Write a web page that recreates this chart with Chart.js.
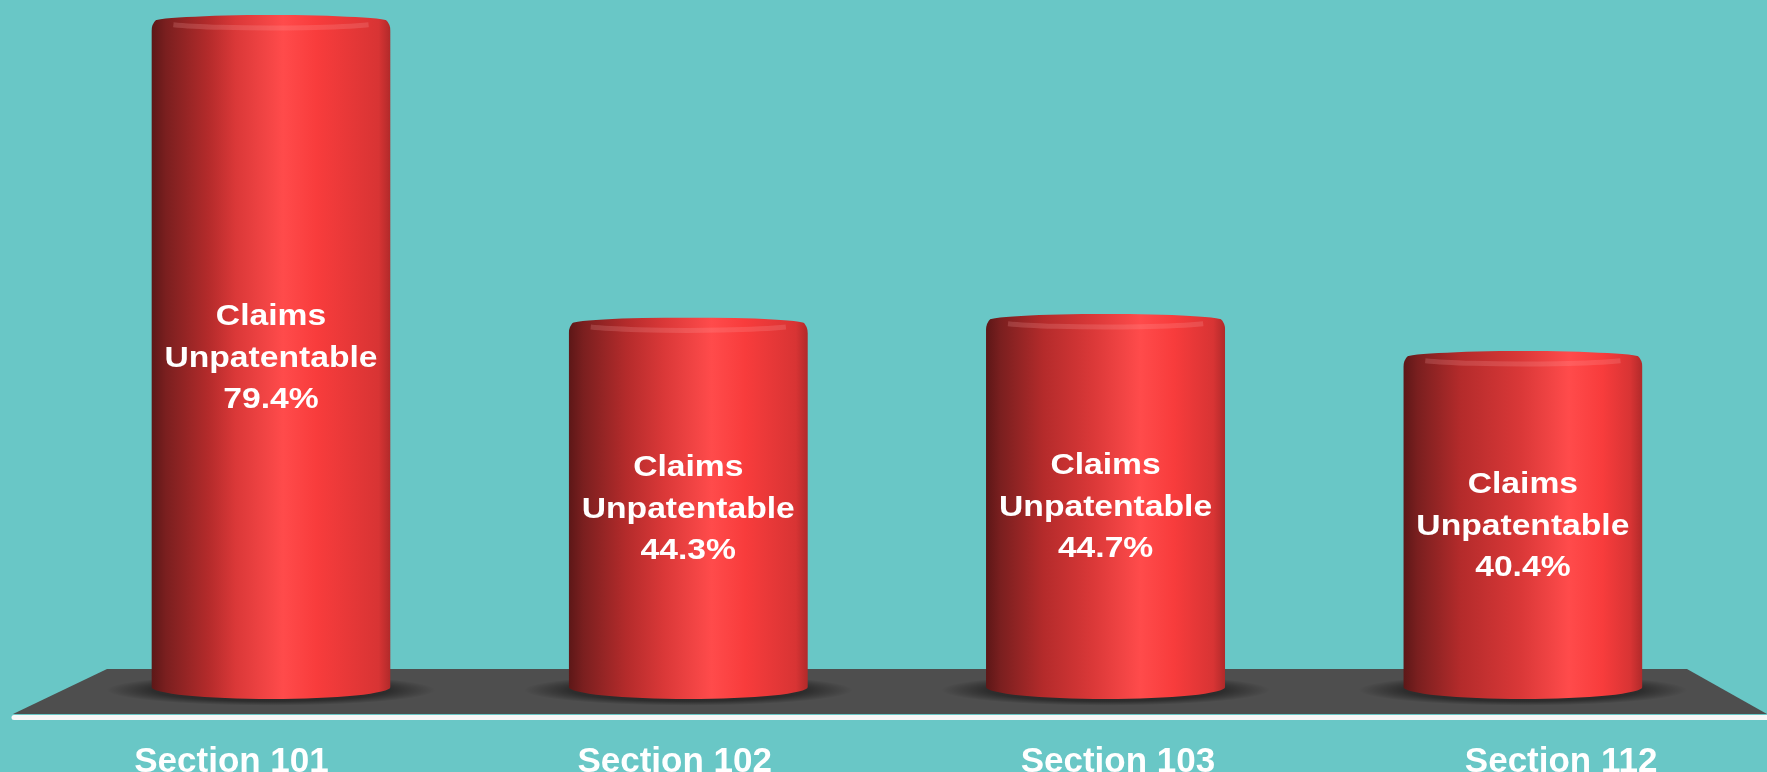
<!DOCTYPE html>
<html lang="en">

<head>
    <title>Claims Unpatentable</title>
    <meta charset="utf-8" />
    <script src="https://cdn.jsdelivr.net/npm/chart.js"></script>
    <style>
        html, body { margin: 0; padding: 0; background: #69c7c6; overflow: hidden; }
        canvas { display: block; }
    </style>
</head>

<body>
    <canvas id="grafico" width="1767" height="772"></canvas>

    <script>
        // datos
        const sections = ['Section 101', 'Section 102', 'Section 103', 'Section 112'];
        const unpatentable = [79.4, 44.3, 44.7, 40.4];
        const barText = ['Claims', 'Unpatentable'];

        const BAR_PCT = 0.573;
        const FONT = '"Liberation Sans", Arial, Helvetica, sans-serif';

        // las etiquetas de abajo son mas estrechas: usar Liberation Sans Narrow si existe
        function hasFont(name) {
            const c = document.createElement('canvas').getContext('2d');
            c.font = 'bold 40px monospace';
            const a = c.measureText('Section 101').width;
            c.font = 'bold 40px "' + name + '", monospace';
            return c.measureText('Section 101').width !== a;
        }
        const narrow = hasFont('Liberation Sans Narrow');
        const labelFont = narrow
            ? { family: '"Liberation Sans Narrow", ' + FONT, size: 41, weight: 'bold', lineHeight: '20px' }
            : { family: FONT, size: 35, weight: 'bold', lineHeight: '20px' };

        function barGradient(c) {
            const chart = c.chart;
            const xs = chart.scales.x;
            if (!xs || c.dataIndex === undefined) return '#e83a3a';
            const cx = xs.getPixelForValue(c.dataIndex);
            const half = (xs.getPixelForValue(1) - xs.getPixelForValue(0)) * BAR_PCT / 2;
            if (!isFinite(cx) || !isFinite(half) || half <= 0) return '#e83a3a';
            const g = chart.ctx.createLinearGradient(cx - half, 0, cx + half, 0);
            const t = 0.52 + 0.2 * cx / chart.width;
            g.addColorStop(0, '#5c1717');
            g.addColorStop(0.06, '#7a1f1f');
            g.addColorStop(0.24, '#b42b2b');
            g.addColorStop(t - 0.2, '#da3838');
            g.addColorStop(t, '#ff4b4b');
            g.addColorStop(t + 0.14, '#f83c3c');
            g.addColorStop(0.95, '#d83434');
            g.addColorStop(1, '#b02a2a');
            return g;
        }

        // piso, sombras y forma de cilindro
        const cylinderPlugin = {
            id: 'cylinder',
            beforeDatasetsDraw(chart) {
                const ctx = chart.ctx;
                const base = chart.scales.y.getPixelForValue(0);
                const w = chart.width;
                ctx.save();
                ctx.fillStyle = '#4e4e4e';
                ctx.beginPath();
                ctx.moveTo(107, base - 30);
                ctx.lineTo(w - 80, base - 30);
                ctx.lineTo(w, base + 15);
                ctx.lineTo(13, base + 15);
                ctx.closePath();
                ctx.fill();

                ctx.strokeStyle = '#f7f7f7';
                ctx.lineWidth = 5;
                ctx.lineCap = 'round';
                ctx.beginPath();
                ctx.moveTo(14, base + 18.5);
                ctx.lineTo(w + 5, base + 18.5);
                ctx.stroke();

                chart.getDatasetMeta(0).data.forEach(el => {
                    const r = el.width / 2 + 45;
                    ctx.save();
                    ctx.translate(el.x, el.base - 9);
                    ctx.scale(1, 0.095);
                    const g = ctx.createRadialGradient(0, 0, 0, 0, 0, r);
                    g.addColorStop(0, 'rgba(0,0,0,0.6)');
                    g.addColorStop(0.72, 'rgba(0,0,0,0.42)');
                    g.addColorStop(1, 'rgba(0,0,0,0)');
                    ctx.fillStyle = g;
                    ctx.beginPath();
                    ctx.arc(0, 0, r, 0, Math.PI * 2);
                    ctx.fill();
                    ctx.restore();
                });
                ctx.restore();
            },
            beforeDatasetDraw(chart, args) {
                const ctx = chart.ctx;
                ctx.save();
                ctx.beginPath();
                args.meta.data.forEach(el => {
                    const rx = el.width / 2;
                    const ry = 12;
                    ctx.rect(el.x - rx, el.y + 7, el.width, el.base - ry - el.y - 7);
                    ctx.moveTo(el.x + rx, el.base - ry);
                    ctx.ellipse(el.x, el.base - ry, rx, ry, 0, 0, Math.PI * 2);
                    ctx.moveTo(el.x + rx, el.y + 7);
                    ctx.ellipse(el.x, el.y + 7, rx, 7, 0, 0, Math.PI * 2);
                });
                ctx.clip();
            },
            afterDatasetDraw(chart, args) {
                const ctx = chart.ctx;
                ctx.restore();
                ctx.save();
                args.meta.data.forEach((el, i) => {
                    ctx.strokeStyle = 'rgba(255,170,170,0.2)';
                    ctx.lineWidth = 5;
                    ctx.beginPath();
                    ctx.ellipse(el.x, el.y + 7, el.width / 2 - 10, 6, 0, 0.15 * Math.PI, 0.85 * Math.PI);
                    ctx.stroke();

                    const lines = [...barText, unpatentable[i].toFixed(1) + '%'];
                    const mid = (el.y + el.base) / 2 + 1.5;
                    ctx.fillStyle = '#ffffff';
                    ctx.font = 'bold 29px ' + FONT;
                    ctx.textAlign = 'center';
                    ctx.textBaseline = 'middle';
                    lines.forEach((t, k) => {
                        ctx.save();
                        ctx.translate(el.x, mid + (k - 1) * 41.5);
                        ctx.scale(1.16, 1);
                        ctx.fillText(t, 0, 0);
                        ctx.restore();
                    });
                });
                ctx.restore();
            }
        };

        const ctx = document.querySelector('#grafico').getContext('2d');
        const grafico = new Chart(ctx, {
            type: 'bar',
            data: {
                datasets: [{
                    label: 'Claims Unpatentable',
                    data: unpatentable.map((v, i) => ({ x: i, y: v })),
                    backgroundColor: barGradient,
                    borderWidth: 0,
                    borderRadius: { topLeft: 16, topRight: 16, bottomLeft: 0, bottomRight: 0 },
                    borderSkipped: false,
                    barPercentage: BAR_PCT,
                    categoryPercentage: 1
                }]
            },
            options: {
                responsive: false,
                devicePixelRatio: 1,
                animation: false,
                layout: { padding: 0 },
                plugins: {
                    legend: { display: false },
                    tooltip: { enabled: false }
                },
                scales: {
                    x: {
                        type: 'linear',
                        display: false,
                        offset: false,
                        grid: { offset: false },
                        min: -0.6494,
                        max: 3.585,
                        afterBuildTicks: axis => { axis.ticks = sections.map((s, i) => ({ value: i })); }
                    },
                    xl: {
                        type: 'linear',
                        position: 'bottom',
                        offset: false,
                        min: -0.5223,
                        max: 3.4645,
                        grid: { display: false, drawTicks: false, offset: false },
                        border: { display: false },
                        afterBuildTicks: axis => { axis.ticks = sections.map((s, i) => ({ value: i })); },
                        ticks: {
                            color: '#ffffff',
                            padding: 0,
                            mirror: true,
                            autoSkip: false,
                            maxRotation: 0,
                            font: labelFont,
                            callback: v => sections[v]
                        }
                    },
                    y: {
                        display: false,
                        min: -8.47,
                        max: 81.14
                    }
                }
            },
            plugins: [cylinderPlugin]
        });
    </script>
</body>

</html>
